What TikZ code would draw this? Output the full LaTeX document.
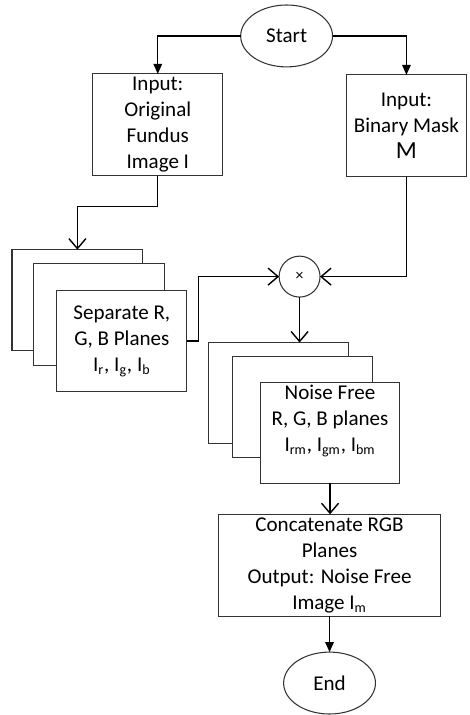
\documentclass[tikz,border=0pt]{standalone}
\usepackage{fontspec}
\setmainfont{Carlito}
\usetikzlibrary{arrows.meta,shapes.geometric}
\tikzset{
  box/.style={draw=black!80,line width=0.6pt,fill=white,inner sep=0pt,outer sep=0pt,align=center,font=\fontsize{12}{14.8}\selectfont},
  term/.style={ellipse,draw=black!80,line width=0.6pt,fill=white,minimum width=1.84cm,minimum height=1.24cm,inner sep=0pt,outer sep=0pt,font=\fontsize{12}{14.8}\selectfont},
  wire/.style={draw=black,line width=0.8pt},
  solidtip/.style={-{Triangle[length=2mm,width=1.7mm]}},
  opentip/.style={-{Straight Barb[length=2mm,width=3.4mm]}},
}
\begin{document}
\begin{tikzpicture}[x=0.02cm,y=-0.02cm]
\useasboundingbox (0,0) rectangle (470,716);
% terminals
\node[term] (start) at (287,36) {Start};
\node[term] (stop) at (330,684) {End};
% inputs
\node[box,minimum width=2.6cm,minimum height=2.04cm] (orig) at (158,125) {Input:\\Original\\Fundus\\Image I};
\node[box,minimum width=2.4cm,minimum height=2.04cm] (mask) at (407,126) {Input:\\Binary Mask\\{\fontsize{14}{16}\selectfont M}};
% stack of separated planes
\node[box,minimum width=2.62cm,minimum height=2.02cm] (sepback) at (77.5,300.5) {};
\node[box,minimum width=2.62cm,minimum height=2.04cm] (sepmid) at (99.5,315) {};
\node[box,minimum width=2.6cm,minimum height=2.02cm] (sep) at (122,341.5) {Separate R,\\G, B Planes\\I\textsubscript{r}, I\textsubscript{g}, I\textsubscript{b}};
% multiplier
\node[circle,draw=black!80,line width=0.6pt,minimum size=0.82cm,inner sep=0pt,outer sep=0pt,font=\small] (mult) at (300,277) {×};
% stack of noise free planes
\node[box,minimum width=2.8cm,minimum height=2.02cm] (nfback) at (279,393.5) {};
\node[box,minimum width=2.8cm,minimum height=2.02cm] (nfmid) at (303,407.5) {};
\node[box,minimum width=2.78cm,minimum height=2.02cm] (nf) at (330.5,433.5) {};
\node[anchor=north,inner sep=0pt,align=center,font=\fontsize{12}{14.8}\selectfont] (nftext) at ([yshift=-0.04cm]nf.north) {Noise Free\\R, G, B planes\\I\textsubscript{rm}, I\textsubscript{gm}, I\textsubscript{bm}};
% output
\node[box,minimum width=4.44cm,minimum height=2.04cm] (concat) at (330,566) {Concatenate RGB\\Planes\\Output: Noise Free\\Image I\textsubscript{m}};
% connectors
\draw[wire,solidtip] (start.west) -| (orig.north);
\draw[wire,solidtip] (start.east) -| (mask.north);
\draw[wire,opentip] (orig.south) -- ++(0,31) -| (sepback.north);
\draw[wire,opentip] (sep.east) -- ++(12,0) |- (mult.west);
\draw[wire,opentip] (mask.south) |- (mult.east);
\draw[wire,opentip] (mult.south) -- (mult.south |- nfback.north);
\draw[wire,opentip] (nf.south) -- (nf.south |- concat.north);
\draw[wire,solidtip] (concat.south) -- (stop.north);
\end{tikzpicture}
\end{document}
